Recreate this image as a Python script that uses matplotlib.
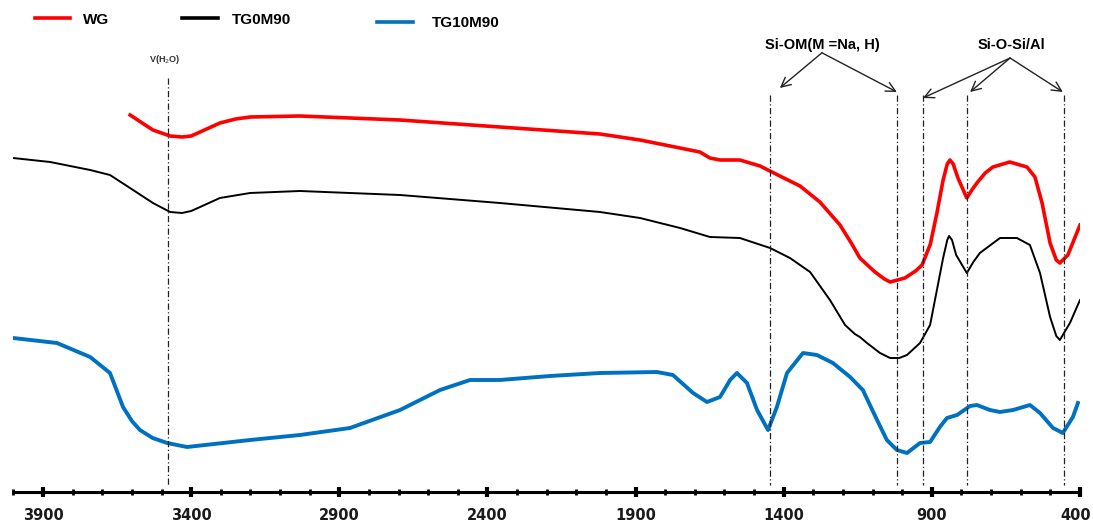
import matplotlib
matplotlib.use("Agg")
import matplotlib.pyplot as plt
from matplotlib.lines import Line2D
from matplotlib.ticker import MultipleLocator, FixedLocator
from matplotlib.transforms import ScaledTranslation

# ---------------- data (wavenumber cm-1, transmittance a.u.) ----------------
wg_wn = [3606, 3560, 3529, 3471, 3431, 3400, 3370, 3303, 3250, 3201, 3033, 2695, 2358,
         2020, 1885, 1750, 1683, 1649, 1615, 1548, 1480, 1413, 1345, 1278, 1210, 1170,
         1143, 1092, 1060, 1041, 991, 955, 933, 905, 883, 862, 848, 839, 828, 812, 782,
         765, 748, 720, 694, 637, 579, 552, 528, 501, 480, 468, 441, 400]
wg_t = [96.25, 94.0, 92.5, 91.0, 90.75, 91.0, 92.0, 94.25, 95.25, 95.75, 96.0, 95.0, 93.25,
        91.5, 90.0, 88.0, 87.0, 85.5, 85.0, 85.0, 83.5, 81.0, 78.5, 74.5, 68.75, 64.0,
        60.5, 57.0, 55.25, 54.5, 55.5, 57.25, 58.75, 64.0, 71.75, 80.0, 84.0, 85.0, 84.0,
        80.5, 75.5, 77.5, 79.25, 81.75, 83.25, 84.5, 83.25, 80.75, 74.25, 64.25, 60.0,
        59.25, 61.25, 68.75]

tg0_wn = [4001, 3876, 3741, 3674, 3596, 3529, 3471, 3431, 3400, 3370, 3303, 3201, 3033,
          2695, 2358, 2020, 1885, 1750, 1649, 1548, 1446, 1379, 1311, 1244, 1193, 1160,
          1143, 1119, 1075, 1041, 1010, 984, 940, 906, 883, 862, 848, 842, 832, 818, 782,
          760, 738, 670, 613, 569, 535, 501, 480, 468, 434, 400]
tg0_t = [85.5, 84.5, 82.5, 81.25, 77.5, 74.25, 72.0, 71.75, 72.25, 73.25, 75.5, 76.75, 77.25,
         76.25, 74.25, 72.0, 70.5, 68.0, 65.75, 65.5, 63.0, 60.5, 57.0, 50.0, 43.75, 41.5,
         40.75, 39.25, 36.75, 35.5, 35.5, 36.25, 39.25, 43.75, 52.5, 60.5, 65.0, 66.0,
         65.0, 61.25, 56.75, 59.5, 61.75, 65.5, 65.5, 63.75, 56.75, 45.75, 41.0, 40.0,
         44.25, 50.0]

tg10_wn = [4001, 3853, 3741, 3674, 3630, 3600, 3573, 3530, 3481, 3414, 3201, 3033, 2864,
           2695, 2560, 2459, 2358, 2189, 2020, 1828, 1774, 1706, 1659, 1615, 1581, 1558,
           1524, 1490, 1453, 1423, 1389, 1335, 1288, 1234, 1176, 1133, 1085, 1052, 1018,
           984, 940, 906, 873, 849, 815, 771, 748, 704, 670, 626, 569, 535, 491, 458, 424,
           407]
tg10_t = [40.5, 39.25, 35.75, 31.75, 23.25, 19.75, 17.5, 15.5, 14.25, 13.25, 15.0, 16.25,
          18.0, 22.5, 27.5, 30.0, 30.0, 31.0, 31.75, 32.0, 31.25, 26.75, 24.5, 25.75, 30.0,
          31.75, 29.25, 22.5, 17.5, 23.25, 31.75, 36.75, 36.25, 34.25, 30.75, 27.5, 20.0,
          15.0, 12.5, 11.75, 14.25, 14.5, 18.25, 20.5, 21.25, 23.5, 23.75, 22.5, 22.0,
          22.5, 23.75, 21.75, 18.0, 16.75, 20.75, 24.25]

series_names = ["WG", "TG0M90", "TG10M90"]
series_colors = ["#FF0000", "#000000", "#0070C0"]

band_h2o = 3478
band_siom = [1446, 1018]
band_sios = [930, 782, 454]

major_ticks = [3900, 3400, 2900, 2400, 1900, 1400, 900, 400]

# ---------------- figure ----------------
W, H = 1093, 522
fig = plt.figure(figsize=(W / 100, H / 100), dpi=100)
ax = fig.add_axes([13.4 / W, 30 / H, (1080 - 13.4) / W, 492 / H])
ax.set_xlim(4000, 400)
ax.set_ylim(2, 125)

ax.plot(wg_wn, wg_t, color=series_colors[0], lw=2.6, solid_joinstyle="round")
ax.plot(tg0_wn, tg0_t, color=series_colors[1], lw=1.4, solid_joinstyle="round")
ax.plot(tg10_wn, tg10_t, color=series_colors[2], lw=2.8, solid_joinstyle="round")

# vertical band markers
dash = (0, (5, 2, 1, 2))
ax.plot([band_h2o, band_h2o], [105.5, 3.8], color="#222222", lw=0.9, ls=dash)
for b in band_siom + band_sios:
    ax.plot([b, b], [101.2, 3.8], color="#222222", lw=0.9, ls=dash)

# annotations
ax.text(3488, 110, "V(H$_2$O)", fontsize=6.5, fontweight="bold", ha="center",
        va="center", family="Liberation Sans", color="#333333")
ax.text(1271, 113.8, "Si-OM(M =Na, H)", fontsize=10.5, fontweight="bold",
        ha="center", va="center", family="Liberation Sans")
ax.text(630, 113.8, "Si-O-Si/Al", fontsize=10.5, fontweight="bold",
        ha="center", va="center", family="Liberation Sans")
arrow_kw = dict(arrowstyle="->", color="#222222", lw=1.0, mutation_scale=17,
                shrinkA=0, shrinkB=0)
for x_end, y_end in [(1413, 103), (1018, 102)]:
    ax.annotate("", xy=(x_end, y_end), xytext=(1271, 111.8), arrowprops=arrow_kw)
for x_end, y_end in [(930, 100.5), (771, 102), (458, 102)]:
    ax.annotate("", xy=(x_end, y_end), xytext=(636, 110.5), arrowprops=arrow_kw)

# axes styling
for s in ["top", "left", "right"]:
    ax.spines[s].set_visible(False)
ax.spines["bottom"].set_linewidth(2.2)
ax.set_yticks([])
ax.xaxis.set_major_locator(FixedLocator(major_ticks))
ax.xaxis.set_minor_locator(MultipleLocator(100))
ax.tick_params(axis="x", which="major", direction="inout", length=7, width=3,
               pad=8, labelsize=10.5)
ax.tick_params(axis="x", which="minor", direction="inout", length=4, width=2)
fig.canvas.draw()
labels = ax.get_xticklabels()
for lab in labels:
    lab.set_fontweight("bold")
    lab.set_family("DejaVu Sans")
    lab.set_color("#1a1a1a")
    if lab.get_text() == "400":
        lab.set_transform(lab.get_transform() +
                          ScaledTranslation(-4 / 100, 0, fig.dpi_scale_trans))

# legend drawn at the top
legend_items = [(35, 70, 18, 83, 20), (182, 218, 18, 232, 20), (377, 413, 22, 432, 23)]
for (x0, x1, yl, xt, yt), name, col in zip(legend_items, series_names, series_colors):
    fig.add_artist(Line2D([x0 / W, x1 / W], [1 - yl / H, 1 - yl / H], color=col,
                          lw=2.6, transform=fig.transFigure))
    fig.text(xt / W, 1 - yt / H, name, fontsize=11, fontweight="bold",
             family="Liberation Sans", va="center", ha="left")

fig.savefig("out.png", dpi=100, facecolor="white")
